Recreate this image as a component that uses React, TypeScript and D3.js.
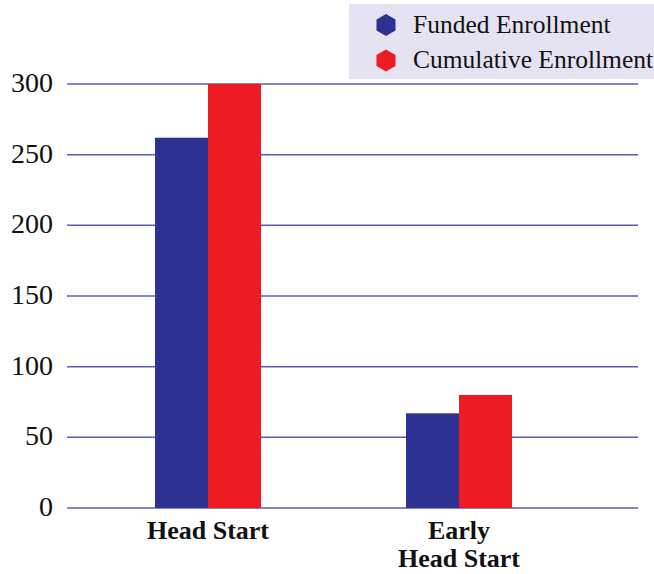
import React, { useEffect, useRef } from 'react';
import * as d3 from 'd3';

const categories = ['Head Start', 'Early Head Start'];
const categoryLines = [['Head Start'], ['Early', 'Head Start']];
const seriesNames = ['Funded Enrollment', 'Cumulative Enrollment'];
const fundedValues = [262, 67];
const cumulativeValues = [300, 80];
const yTicks = [0, 50, 100, 150, 200, 250, 300];
const colors = ['#2e3192', '#ed1c24'];

export default function App() {
  const svgRef = useRef<SVGSVGElement>(null);

  useEffect(() => {
    if (!svgRef.current) return;
    const svg = d3.select(svgRef.current);
    svg.selectAll('*').remove();

    const width = 654;
    const height = 574;
    const plot = { left: 67, right: 638, top: 84, bottom: 508 };
    const font = '"Liberation Serif", "Times New Roman", serif';

    const y = d3.scaleLinear().domain([0, 300]).range([plot.bottom, plot.top]);

    // groups sit a bit left of center, like the original
    const x0 = d3.scaleBand().domain(categories).range([82.5, 584.5]);
    const barW = 53;
    const x1 = d3.scaleBand()
      .domain(seriesNames)
      .range([x0.bandwidth() / 2 - barW, x0.bandwidth() / 2 + barW]);

    // gridlines
    svg.append('g')
      .selectAll('line')
      .data(yTicks)
      .enter()
      .append('line')
      .attr('x1', plot.left)
      .attr('x2', plot.right)
      .attr('y1', d => y(d))
      .attr('y2', d => y(d))
      .attr('stroke', '#5b5bb3')
      .attr('stroke-width', 1.5);

    // tick labels
    svg.append('g')
      .selectAll('text')
      .data(yTicks)
      .enter()
      .append('text')
      .attr('x', 53)
      .attr('y', d => y(d) + 8)
      .attr('text-anchor', 'end')
      .style('font-family', font)
      .style('font-size', '28px')
      .attr('fill', '#111')
      .text(d => d);

    const rows = categories.map((c, i) => ({
      category: c,
      values: [fundedValues[i], cumulativeValues[i]],
    }));

    const groups = svg.append('g')
      .selectAll('g')
      .data(rows)
      .enter()
      .append('g')
      .attr('transform', d => `translate(${x0(d.category)},0)`);

    groups.selectAll('rect')
      .data(d => d.values.map((v, j) => ({ key: seriesNames[j], value: v, j })))
      .enter()
      .append('rect')
      .attr('x', d => x1(d.key) || 0)
      .attr('width', x1.bandwidth())
      .attr('y', d => y(d.value))
      .attr('height', d => y(0) - y(d.value))
      .attr('fill', d => colors[d.j]);

    // category labels
    const labels = svg.append('g')
      .selectAll('text')
      .data(categories)
      .enter()
      .append('text')
      .attr('text-anchor', 'middle')
      .style('font-family', font)
      .style('font-size', '26px')
      .style('font-weight', 'bold')
      .attr('fill', '#111')
      .attr('transform', d => `translate(${(x0(d) || 0) + x0.bandwidth() / 2},539)`);

    labels.selectAll('tspan')
      .data((d, i) => categoryLines[i])
      .enter()
      .append('tspan')
      .attr('x', 0)
      .attr('dy', (_, i) => (i === 0 ? 0 : 28))
      .text(d => d);

    // legend
    const legend = svg.append('g');
    legend.append('rect')
      .attr('x', 349)
      .attr('y', 4)
      .attr('width', width - 349)
      .attr('height', 75)
      .attr('fill', '#e5e3f2');

    const hex = (cx: number, cy: number, r: number) =>
      d3.range(6)
        .map(k => {
          const a = Math.PI / 6 + (k * Math.PI) / 3;
          return [cx + r * Math.cos(a), cy + r * Math.sin(a)];
        })
        .map(p => p.join(','))
        .join(' ');

    const items = legend.selectAll('g')
      .data(seriesNames)
      .enter()
      .append('g');

    items.append('polygon')
      .attr('points', (_, i) => hex(386, 25 + i * 35.5, 11))
      .attr('fill', (_, i) => colors[i]);

    items.append('text')
      .attr('x', 413)
      .attr('y', (_, i) => 33 + i * 35)
      .style('font-family', font)
      .style('font-size', '25.5px')
      .attr('fill', '#111')
      .text(d => d);

    svg.attr('width', width).attr('height', height);
  }, []);

  return (
    <svg
      ref={svgRef}
      width={654}
      height={574}
      style={{ position: 'absolute', left: 0, top: 0, background: '#fff' }}
    />
  );
}
